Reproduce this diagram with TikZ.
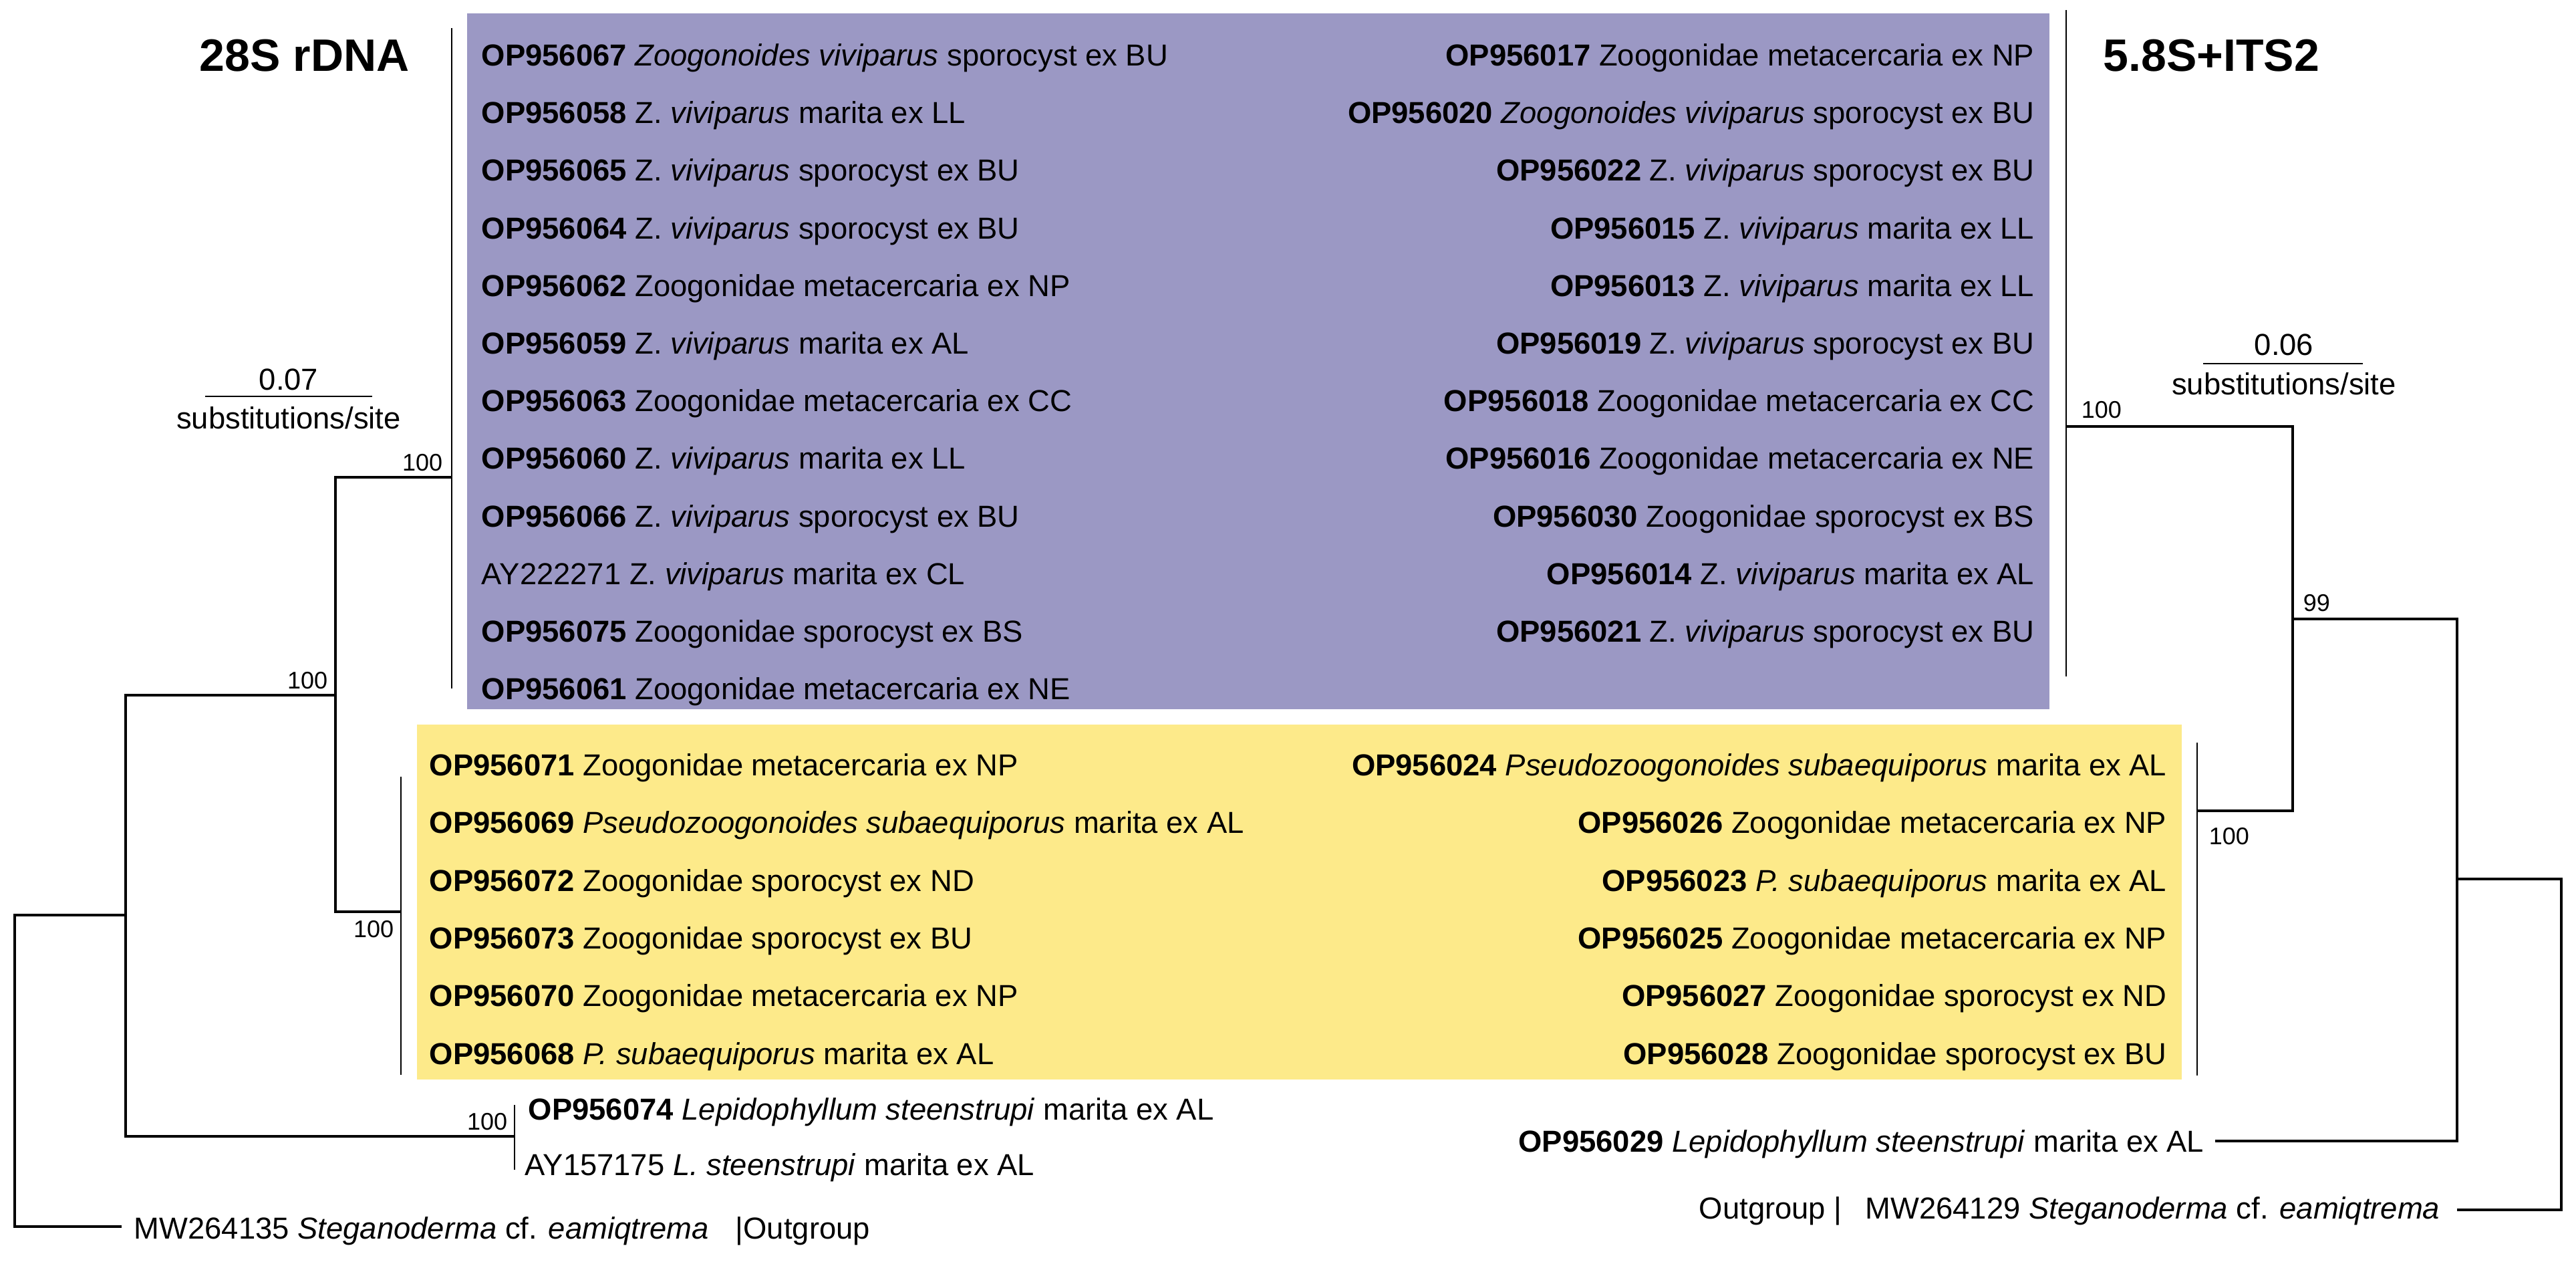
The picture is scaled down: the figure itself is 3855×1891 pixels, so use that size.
\documentclass[tikz,border=0pt]{standalone}
\usepackage{fontspec}
\setmainfont{Liberation Sans}
\definecolor{purp}{RGB}{155,152,196}
\definecolor{yell}{RGB}{253,234,138}
\newcommand{\gb}[1]{\textbf{#1}}
\newcommand{\gi}[1]{\textit{#1}}
\begin{document}
\begin{tikzpicture}[x=0.25pt,y=-0.25pt,
  lbl/.style={font=\fontsize{11.35}{13}\selectfont, inner sep=0pt},
  lw/.style={lbl, anchor=base west},
  le/.style={lbl, anchor=base east},
  boot/.style={font=\fontsize{9}{11}\selectfont, inner sep=0pt},
  title/.style={font=\fontsize{17}{20}\selectfont\bfseries, inner sep=0pt, anchor=base west},
  br/.style={line width=1.2pt},
  cbar/.style={line width=0.7pt},
]
\useasboundingbox (0,0) rectangle (3855,1891);
\fill[white] (0,0) rectangle (3855,1891);
\fill[purp] (699,20) rectangle (3067,1061);
\fill[yell] (624,1084) rectangle (3265,1615);

% titles
\node[title] (t28) at (298,107) {28S rDNA};
\node[title] (tits) at (3147,107) {5.8S+ITS2};

% purple left column
\node[lw] (p0) at (720,99) {\gb{OP956067} \gi{Zoogonoides viviparus} sporocyst ex BU};
\node[lw] (p1) at (720,185) {\gb{OP956058} Z. \gi{viviparus} marita ex LL};
\node[lw] (p2) at (720,271) {\gb{OP956065} Z. \gi{viviparus} sporocyst ex BU};
\node[lw] (p3) at (720,358) {\gb{OP956064} Z. \gi{viviparus} sporocyst ex BU};
\node[lw] (p4) at (720,444) {\gb{OP956062} Zoogonidae metacercaria ex NP};
\node[lw] (p5) at (720,530) {\gb{OP956059} Z. \gi{viviparus} marita ex AL};
\node[lw] (p6) at (720,616) {\gb{OP956063} Zoogonidae metacercaria ex CC};
\node[lw] (p7) at (720,702) {\gb{OP956060} Z. \gi{viviparus} marita ex LL};
\node[lw] (p8) at (720,789) {\gb{OP956066} Z. \gi{viviparus} sporocyst ex BU};
\node[lw] (p9) at (720,875) {AY222271 Z. \gi{viviparus} marita ex CL};
\node[lw] (p10) at (720,961) {\gb{OP956075} Zoogonidae sporocyst ex BS};
\node[lw] (p11) at (720,1047) {\gb{OP956061} Zoogonidae metacercaria ex NE};

% purple right column
\node[le] (q0) at (3045,99) {\gb{OP956017} Zoogonidae metacercaria ex NP};
\node[le] (q1) at (3045,185) {\gb{OP956020} \gi{Zoogonoides viviparus} sporocyst ex BU};
\node[le] (q2) at (3045,271) {\gb{OP956022} Z. \gi{viviparus} sporocyst ex BU};
\node[le] (q3) at (3045,358) {\gb{OP956015} Z. \gi{viviparus} marita ex LL};
\node[le] (q4) at (3045,444) {\gb{OP956013} Z. \gi{viviparus} marita ex LL};
\node[le] (q5) at (3045,530) {\gb{OP956019} Z. \gi{viviparus} sporocyst ex BU};
\node[le] (q6) at (3045,616) {\gb{OP956018} Zoogonidae metacercaria ex CC};
\node[le] (q7) at (3045,702) {\gb{OP956016} Zoogonidae metacercaria ex NE};
\node[le] (q8) at (3045,789) {\gb{OP956030} Zoogonidae sporocyst ex BS};
\node[le] (q9) at (3045,875) {\gb{OP956014} Z. \gi{viviparus} marita ex AL};
\node[le] (q10) at (3045,961) {\gb{OP956021} Z. \gi{viviparus} sporocyst ex BU};

% yellow left column
\node[lw] (y0) at (642,1161) {\gb{OP956071} Zoogonidae metacercaria ex NP};
\node[lw] (y1) at (642,1247) {\gb{OP956069} \gi{Pseudozoogonoides subaequiporus} marita ex AL};
\node[lw] (y2) at (642,1334) {\gb{OP956072} Zoogonidae sporocyst ex ND};
\node[lw] (y3) at (642,1419) {\gb{OP956073} Zoogonidae sporocyst ex BU};
\node[lw] (y4) at (642,1505) {\gb{OP956070} Zoogonidae metacercaria ex NP};
\node[lw] (y5) at (642,1592) {\gb{OP956068} \gi{P. subaequiporus} marita ex AL};

% yellow right column
\node[le] (z0) at (3243,1161) {\gb{OP956024} \gi{Pseudozoogonoides subaequiporus} marita ex AL};
\node[le] (z1) at (3243,1247) {\gb{OP956026} Zoogonidae metacercaria ex NP};
\node[le] (z2) at (3243,1334) {\gb{OP956023} \gi{P. subaequiporus} marita ex AL};
\node[le] (z3) at (3243,1419) {\gb{OP956025} Zoogonidae metacercaria ex NP};
\node[le] (z4) at (3243,1505) {\gb{OP956027} Zoogonidae sporocyst ex ND};
\node[le] (z5) at (3243,1592) {\gb{OP956028} Zoogonidae sporocyst ex BU};

% other leaves
\node[lw] (lep1) at (790,1675) {\gb{OP956074} \gi{Lepidophyllum steenstrupi} marita ex AL};
\node[lw] (lep2) at (785,1758) {AY157175 \gi{L. steenstrupi} marita ex AL};
\node[lw] (ogl) at (200,1853) {MW264135 \gi{Steganoderma} cf. \gi{eamiqtrema}};
\node[lw] (ogltag) at (1100,1853) {|Outgroup};
\node[le] (lepr) at (3299,1723) {\gb{OP956029} \gi{Lepidophyllum steenstrupi} marita ex AL};
\node[le] (ogr) at (3652,1823) {MW264129 \gi{Steganoderma} cf. \gi{eamiqtrema}};
\node[lw] (ogrtag) at (2542,1823) {Outgroup |};

% scale bars
\coordinate (sl1) at (307,593); \coordinate (sl2) at (557,593);
\draw[cbar] (sl1) -- (sl2);
\node[lbl, anchor=base] (sl07) at (432,584) {0.07};
\node[lbl, anchor=base] (slsub) at (432,642) {substitutions/site};
\coordinate (sr1) at (3297,544); \coordinate (sr2) at (3536,544);
\draw[cbar] (sr1) -- (sr2);
\node[lbl, anchor=base] (sr06) at (3418,532) {0.06};
\node[lbl, anchor=base] (srsub) at (3418,591) {substitutions/site};

% left tree
\coordinate (L0) at (22,1369); \coordinate (L0b) at (22,1835); \coordinate (Log) at (182,1835);
\coordinate (A1) at (188,1040); \coordinate (A2) at (188,1700); \coordinate (Am) at (188,1369);
\coordinate (B1) at (502,714); \coordinate (B2) at (502,1364); \coordinate (Bm) at (502,1040);
\coordinate (P1) at (676,42); \coordinate (P2) at (676,1030); \coordinate (Pm) at (676,714);
\coordinate (Y1) at (600,1162); \coordinate (Y2) at (600,1608); \coordinate (Ym) at (600,1364);
\coordinate (Le1) at (770,1653); \coordinate (Le2) at (770,1750); \coordinate (Lem) at (770,1700);
\draw[br] (Log) -- (L0b) -- (L0) -- (Am);
\draw[br] (Lem) -- (A2) -- (A1) -- (Bm);
\draw[br] (Pm) -- (B1) -- (B2) -- (Ym);
\draw[cbar] (P1) -- (P2);
\draw[cbar] (Y1) -- (Y2);
\draw[cbar] (Le1) -- (Le2);

% right tree
\coordinate (R1) at (3833,1315); \coordinate (R2) at (3833,1810); \coordinate (Rog) at (3677,1810);
\coordinate (C1) at (3677,926); \coordinate (C2) at (3677,1707); \coordinate (Cm) at (3677,1315);
\coordinate (Rle) at (3315,1707);
\coordinate (D1) at (3431,638); \coordinate (D2) at (3431,1213); \coordinate (Dm) at (3431,926);
\coordinate (Q1) at (3092,15); \coordinate (Q2) at (3092,1012); \coordinate (Qm) at (3092,638);
\coordinate (Z1) at (3288,1111); \coordinate (Z2) at (3288,1609); \coordinate (Zm) at (3288,1213);
\draw[br] (Rog) -- (R2) -- (R1) -- (Cm);
\draw[br] (Rle) -- (C2) -- (C1) -- (Dm);
\draw[br] (Qm) -- (D1) -- (D2) -- (Zm);
\draw[cbar] (Q1) -- (Q2);
\draw[cbar] (Z1) -- (Z2);

% bootstrap values
\node[boot, anchor=base east] (bB) at (663,705) {100};
\node[boot, anchor=base east] (bA) at (491,1031) {100};
\node[boot, anchor=base east] (bY) at (590,1402) {100};
\node[boot, anchor=base east] (bL) at (760,1690) {100};
\node[boot, anchor=base west] (bQ) at (3114,626) {100};
\node[boot, anchor=base west] (bD) at (3446,915) {99};
\node[boot, anchor=base west] (bZ) at (3305,1264) {100};
\end{tikzpicture}
\end{document}
